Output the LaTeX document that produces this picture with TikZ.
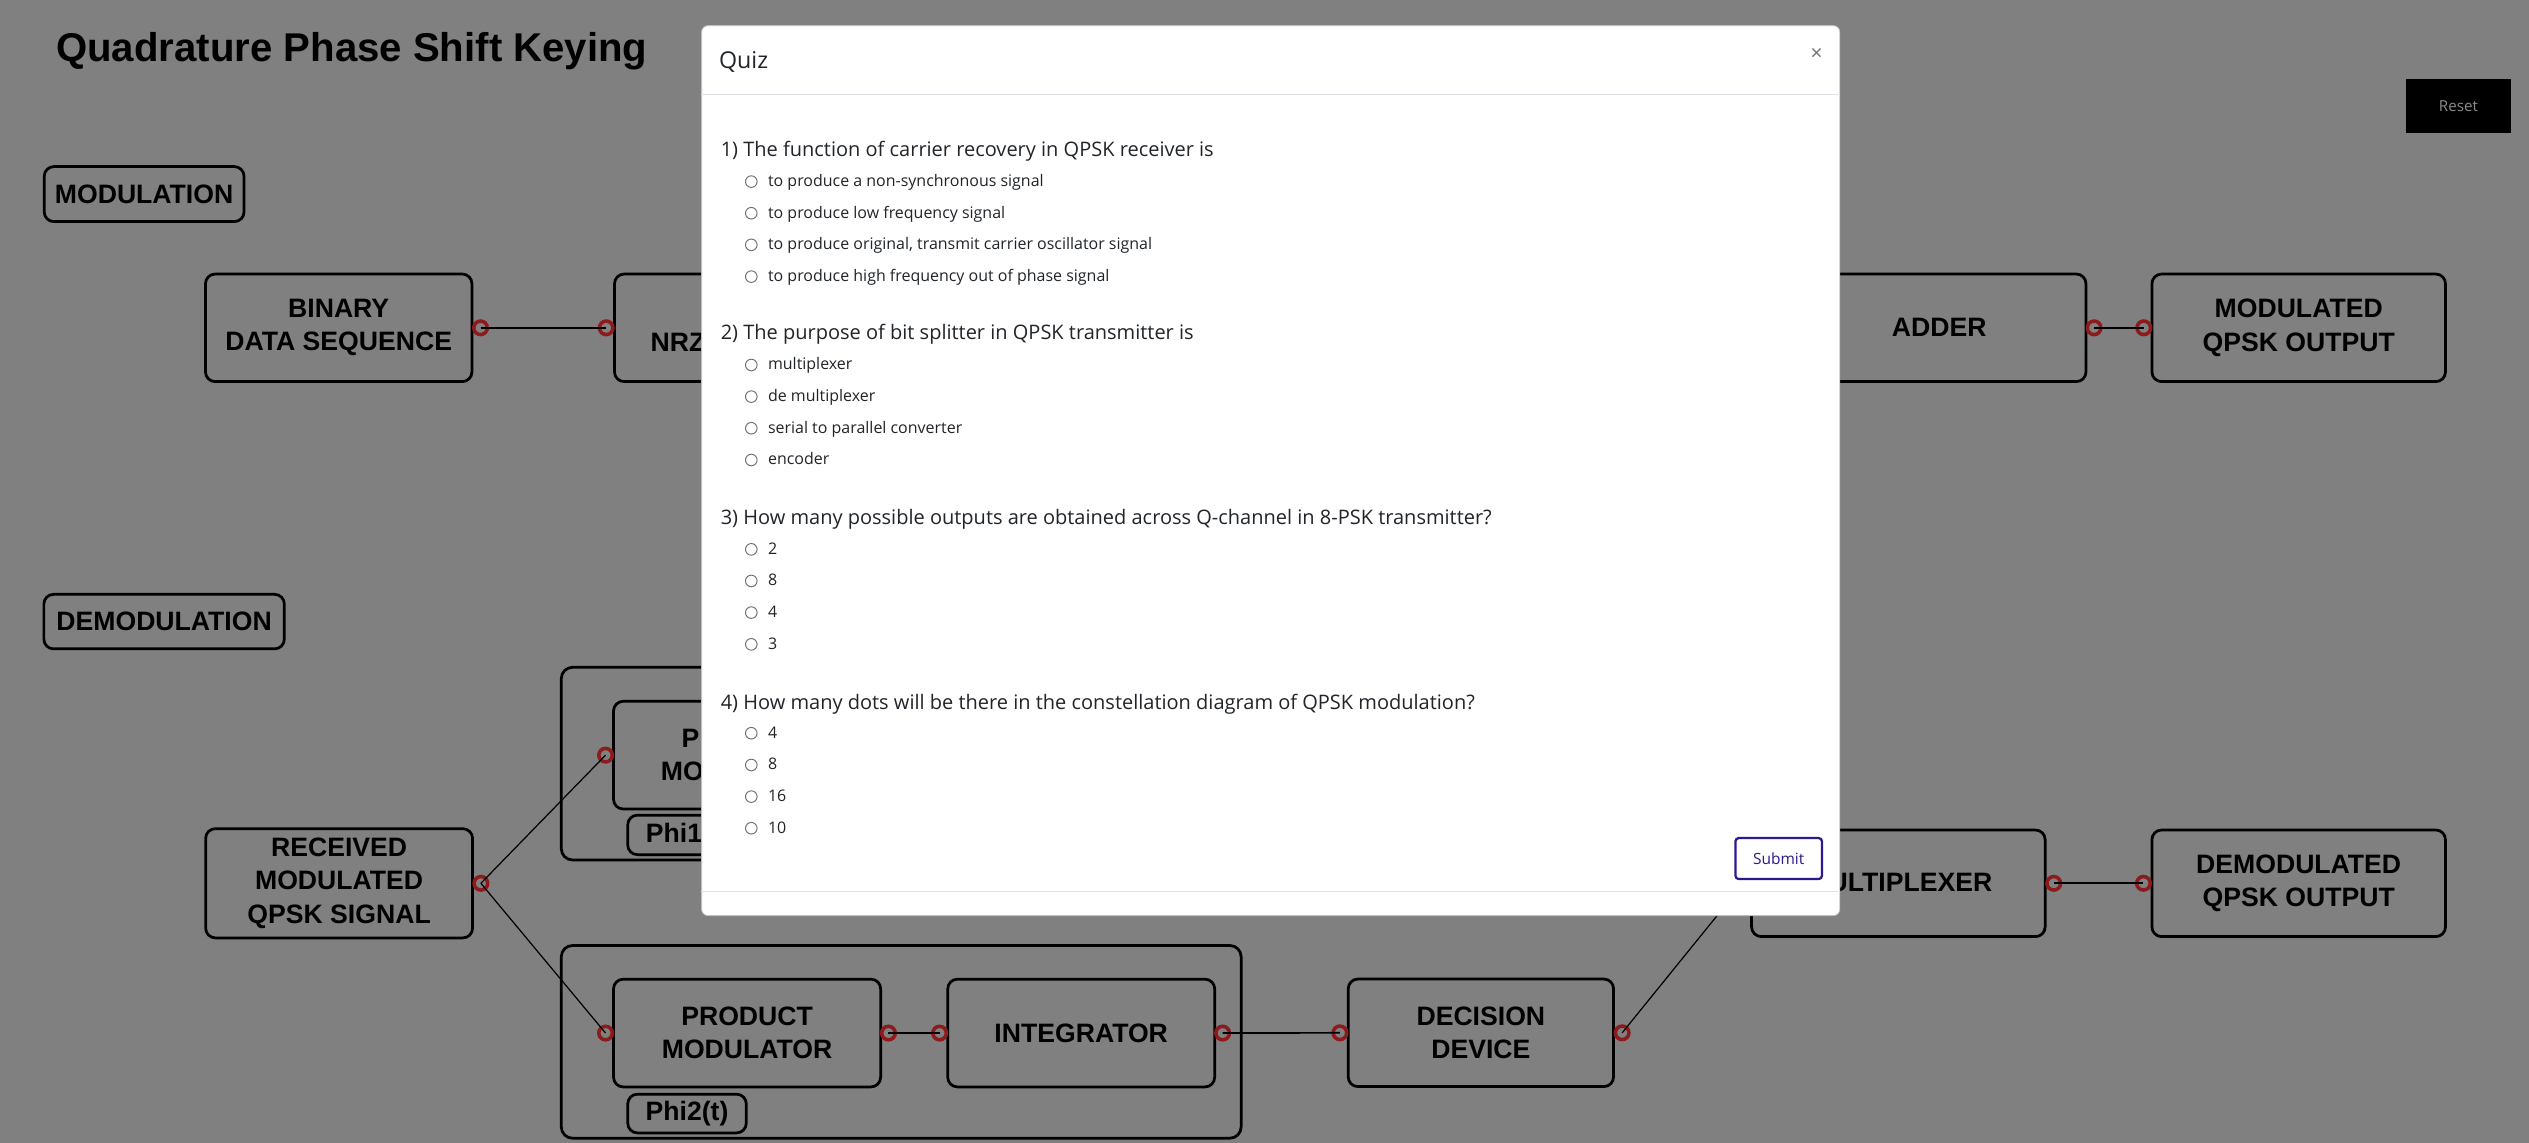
\documentclass[tikz,border=0pt]{standalone}
\usepackage{fontspec}
\setmainfont{Liberation Sans}
\newfontfamily\osans{Open Sans}
\definecolor{bg}{HTML}{808080}
\definecolor{dotred}{HTML}{8E1B1B}
\definecolor{subblue}{HTML}{2A1A8C}
\definecolor{qtext}{HTML}{212529}
\definecolor{sepgray}{HTML}{DEE2E6}
\definecolor{resetgray}{HTML}{8C8C8C}
\definecolor{radiogray}{HTML}{707070}
\newcommand{\boxfont}{\fontsize{16.5}{20.5}\selectfont\bfseries}
\newcommand{\qfont}{\osans\fontsize{12.4}{14}\selectfont}
\newcommand{\ofont}{\osans\fontsize{9.9}{12}\selectfont}
\newcommand{\myopt}[3]{%
  \node[radio] (#1r) at (465.8,#2-3.1) {};
  \node[opttext] (#1) at (476,#2) {#3};}
\begin{document}
\begin{tikzpicture}[x=1pt,y=-1pt,
  blk/.style={draw=black, line width=1.7pt, rounded corners=6pt, inner sep=0pt, align=center, font=\boxfont, text=black},
  grp/.style={draw=black, line width=1.7pt, rounded corners=7pt, inner sep=0pt},
  lbl/.style={anchor=base west, inner sep=0pt, font=\boxfont, text=black},
  dotc/.style={circle, draw=dotred, line width=2.2pt, minimum size=8.4pt, inner sep=0pt},
  wire/.style={draw=black, line width=1.05pt},
  thinwire/.style={draw=black, line width=0.75pt},
  radio/.style={circle, draw=radiogray, line width=0.6pt, minimum size=7.2pt, inner sep=0pt},
  opttext/.style={anchor=base west, inner sep=0pt, font=\ofont, text=qtext},
  qtxt/.style={anchor=base west, inner sep=0pt, font=\qfont, text=qtext}]
\useasboundingbox (0,0) rectangle (1568,708.67);
\fill[bg] (0,0) rectangle (1568,708.67);

% title
\node[font=\fontsize{24.9}{29}\selectfont\bfseries, anchor=base west, inner sep=0pt] (title) at (34.6,38.4) {Quadrature Phase Shift Keying};

% reset button
\node[fill=black, minimum width=65pt, minimum height=33.4pt, inner sep=0pt, font=\osans\fontsize{9.4}{11}\selectfont, text=resetgray] (reset) at (1524.2,65.7) {Reset};

% section labels
\node[blk, minimum width=123.9pt, minimum height=34.1pt] (modlab) at (89.35,120.35) {MODULATION};
\node[blk, minimum width=149.1pt, minimum height=33.8pt] (demodlab) at (101.75,385.4) {DEMODULATION};

% modulation row
\node[blk, minimum width=165.2pt, minimum height=66.7pt] (bin) at (210,203.25) {BINARY\\DATA SEQUENCE};
\node[blk, minimum width=165pt, minimum height=66.7pt] (nrz) at (463.5,203.25) {};
\node[lbl] (nrzt) at (403.2,218) {NRZ};
\node[blk, minimum width=182pt, minimum height=66.7pt] (adder) at (1202.3,203.25) {ADDER};
\node[blk, minimum width=182pt, minimum height=66.7pt] (modout) at (1425.2,203.25) {MODULATED\\QPSK OUTPUT};

\node[dotc] (binO) at ([xshift=4.5pt]bin.east) {};
\node[dotc] (nrzI) at ([xshift=-4.3pt]nrz.west) {};
\node[dotc] (adderO) at ([xshift=4.2pt]adder.east) {};
\node[dotc] (modoutI) at ([xshift=-4.2pt]modout.west) {};
\draw[wire] (binO.center) -- (nrzI.center);
\draw[wire] (adderO.center) -- (modoutI.center);

% demodulation
\node[blk, minimum width=165.5pt, minimum height=67.7pt] (rec) at (210.25,547.65) {RECEIVED\\MODULATED\\QPSK SIGNAL};
\node[grp, minimum width=421.5pt, minimum height=119.5pt] (grp1) at (558.75,473.45) {};
\node[blk, minimum width=165.6pt, minimum height=66.8pt] (pm1) at (463.2,468.2) {};
\node[lbl] (pm1a) at (422.4,463.3) {P};
\node[lbl] (pm1b) at (409.6,483.8) {MO};
\node[blk, minimum width=73.5pt, minimum height=24.5pt] (phi1) at (425.95,517.65) {};
\node[lbl] (phi1t) at (400.3,522.6) {Phi1};
\node[grp, minimum width=421.5pt, minimum height=119.5pt] (grp2) at (558.75,645.95) {};
\node[blk, minimum width=165.6pt, minimum height=66.8pt] (pm2) at (463.2,640.5) {PRODUCT\\MODULATOR};
\node[blk, minimum width=165.5pt, minimum height=66.8pt] (integ) at (670.35,640.5) {INTEGRATOR};
\node[blk, minimum width=73.5pt, minimum height=24pt] (phi2) at (425.95,690.4) {Phi2(t)};
\node[blk, minimum width=164.5pt, minimum height=66.7pt] (dec) at (918.15,640.35) {DECISION\\DEVICE};
\node[blk, minimum width=182pt, minimum height=66.1pt] (mux) at (1177,547.65) {};
\node[lbl, anchor=base east] (muxt) at (1235.4,552.6) {ULTIPLEXER};
\node[blk, minimum width=182pt, minimum height=66.1pt] (demout) at (1425.2,547.65) {DEMODULATED\\QPSK OUTPUT};

\node[dotc] (recO) at ([xshift=4.3pt]rec.east) {};
\node[dotc] (pm1I) at ([xshift=-4.1pt]pm1.west) {};
\node[dotc] (pm2I) at ([xshift=-4.1pt]pm2.west) {};
\node[dotc] (pm2O) at ([xshift=4pt]pm2.east) {};
\node[dotc] (integI) at ([xshift=-4.2pt]integ.west) {};
\node[dotc] (integO) at ([xshift=4.1pt]integ.east) {};
\node[dotc] (decI) at ([xshift=-4.3pt]dec.west) {};
\node[dotc] (decO) at ([xshift=4.5pt]dec.east) {};
\node[dotc] (muxI) at ([xshift=-4.3pt]mux.west) {};
\node[dotc] (muxO) at ([xshift=4.5pt]mux.east) {};
\node[dotc] (demoutI) at ([xshift=-4.4pt]demout.west) {};

\draw[thinwire] (recO.center) -- (pm1I.center);
\draw[thinwire] (recO.center) -- (pm2I.center);
\draw[wire] (pm2O.center) -- (integI.center);
\draw[wire] (integO.center) -- (decI.center);
\draw[thinwire] (decO.center) -- (muxI.center);
\draw[wire] (muxO.center) -- (demoutI.center);

% quiz modal
\node[fill=white, draw=black!25, line width=0.5pt, rounded corners=4pt, minimum width=705.7pt, minimum height=551.8pt, inner sep=0pt] (modal) at (787.85,291.8) {};
\draw[sepgray, line width=0.8pt] (modal.west |- 0,58.5) -- (modal.east |- 0,58.5);
\draw[sepgray, line width=0.8pt] (modal.west |- 0,552.8) -- (modal.east |- 0,552.8);
\node[anchor=base west, inner sep=0pt, font=\osans\fontsize{14.4}{16}\selectfont, text=qtext] (quiz) at (445.6,42.4) {Quiz};
\node[inner sep=0pt, font=\osans\fontsize{13}{14}\selectfont, text=black!55] (close) at (1126.3,33.9) {×};

\node[qtxt] (q1) at (446.7,97.1) {1) The function of carrier recovery in QPSK receiver is};
\myopt{q1a}{115.7}{to produce a non-synchronous signal}
\myopt{q1b}{135.3}{to produce low frequency signal}
\myopt{q1c}{154.9}{to produce original, transmit carrier oscillator signal}
\myopt{q1d}{174.6}{to produce high frequency out of phase signal}

\node[qtxt] (q2) at (446.7,210.8) {2) The purpose of bit splitter in QPSK transmitter is};
\myopt{q2a}{229.4}{multiplexer}
\myopt{q2b}{249.0}{de multiplexer}
\myopt{q2c}{268.6}{serial to parallel converter}
\myopt{q2d}{288.3}{encoder}

\node[qtxt] (q3) at (446.7,325.0) {3) How many possible outputs are obtained across Q-channel in 8-PSK transmitter?};
\myopt{q3a}{343.7}{2}
\myopt{q3b}{363.3}{8}
\myopt{q3c}{382.9}{4}
\myopt{q3d}{402.6}{3}

\node[qtxt] (q4) at (446.7,439.7) {4) How many dots will be there in the constellation diagram of QPSK modulation?};
\myopt{q4a}{457.7}{4}
\myopt{q4b}{477.4}{8}
\myopt{q4c}{497.0}{16}
\myopt{q4d}{516.6}{10}

\node[draw=subblue, line width=1.4pt, rounded corners=2pt, minimum width=53.6pt, minimum height=25.4pt, inner sep=0pt, font=\osans\fontsize{9.6}{11}\selectfont, text=subblue] (submit) at (1102.8,532.3) {Submit};
\end{tikzpicture}
\end{document}
